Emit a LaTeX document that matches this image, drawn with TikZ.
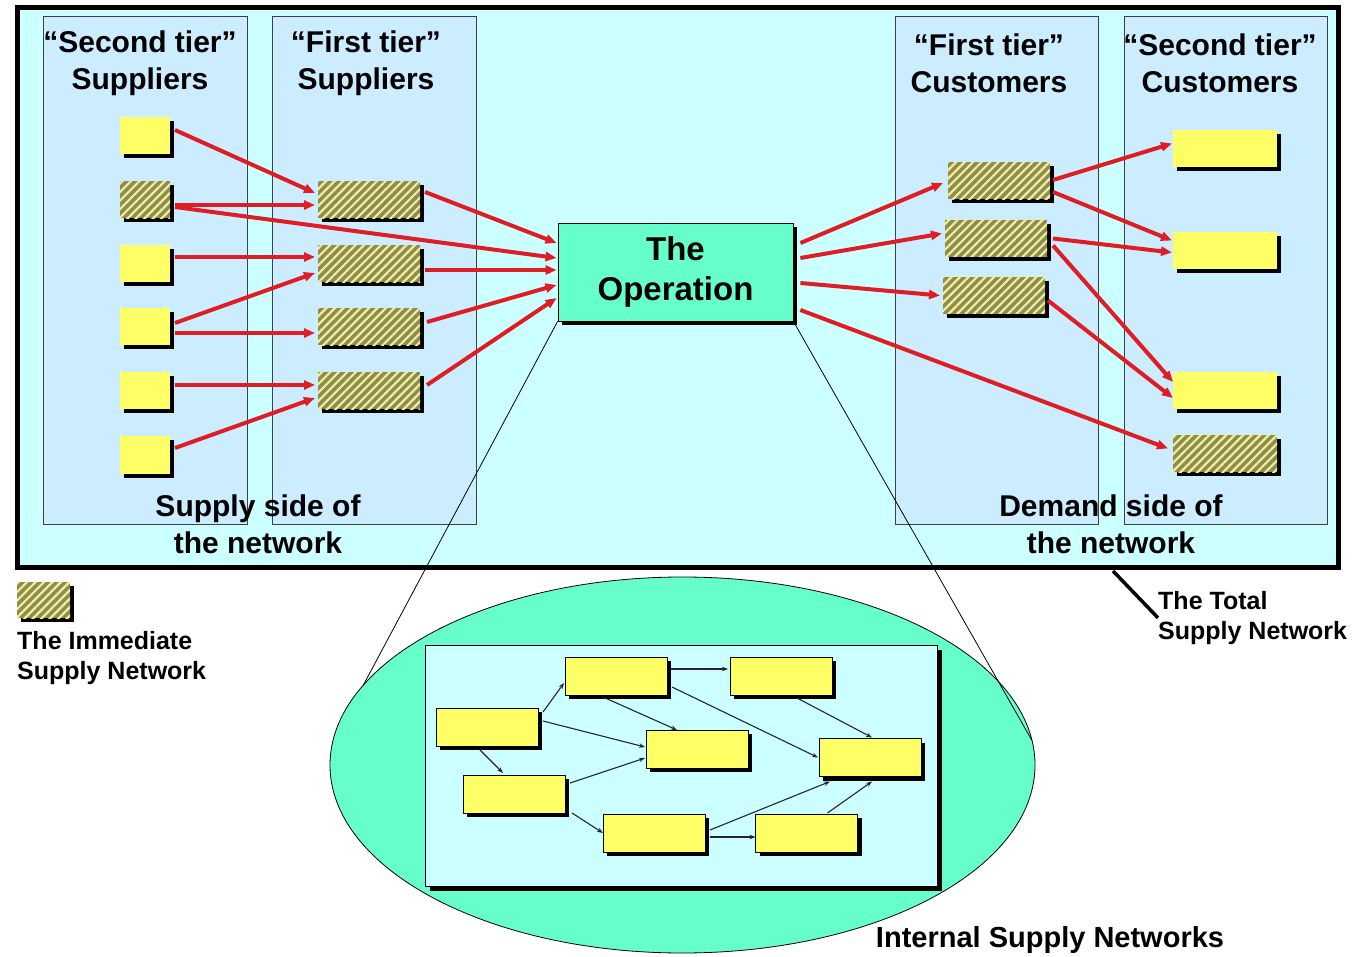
\documentclass[tikz,border=0pt]{standalone}
\usepackage{fontspec}
\setmainfont{Liberation Sans}
\usetikzlibrary{arrows.meta,calc,shadows,shapes.geometric,patterns.meta}

\definecolor{netbg}{RGB}{204,255,255}
\definecolor{tierbg}{RGB}{204,236,255}
\definecolor{boxyellow}{RGB}{255,255,102}
\definecolor{opgreen}{RGB}{102,255,204}
\definecolor{flowred}{RGB}{222,30,36}
\definecolor{hatchdark}{RGB}{140,138,94}
\definecolor{hatchlight}{RGB}{244,242,132}

\tikzset{
  shadowed/.style={drop shadow={shadow xshift=4pt,shadow yshift=-4pt,fill=black,opacity=1}},
  unit/.style={shadowed,inner sep=0pt,outer sep=0pt,minimum width=50pt,minimum height=37pt},
  plain/.style={unit,fill=boxyellow},
  hatched/.style={unit,fill=hatchdark,postaction={pattern={Lines[angle=45,distance=6pt,line width=2.2pt]},pattern color=hatchlight}},
  wide/.style={minimum width=102pt},
  flow/.style={draw=flowred,line width=4pt,-{Triangle[length=11pt,width=9pt]}},
  tierbox/.style={draw=black!75,fill=tierbg,line width=0.8pt},
  heading/.style={font=\bfseries\fontsize{30}{37}\selectfont,align=center},
  keytext/.style={font=\bfseries\fontsize{25}{30}\selectfont,align=left,anchor=north west,inner sep=0pt},
  cell/.style={shadowed,draw=black,line width=1pt,fill=boxyellow,inner sep=0pt,outer sep=0pt,minimum width=102pt,minimum height=38pt},
  link/.style={draw=black!85,line width=1.1pt,-{Stealth[length=6pt,width=4.5pt]}}
}

\begin{document}
\begin{tikzpicture}[x=1pt,y=-1pt]
\useasboundingbox (0,0) rectangle (1355,957);

\draw[line width=5pt,fill=netbg] (17.5,7.5) rectangle (1338.5,567.5);
\draw[tierbox] (43,16) rectangle (247,524);
\draw[tierbox] (272,16) rectangle (476,524);
\draw[tierbox] (895,16) rectangle (1098,524);
\draw[tierbox] (1124,16) rectangle (1327,524);

\node[heading] (s2head) at (140,63) {“Second tier”\\Suppliers};
\node[heading] (s1head) at (366,63) {“First tier”\\Suppliers};
\node[heading] (c1head) at (989,63) {“First tier”\\Customers};
\node[heading] (c2head) at (1220,63) {“Second tier”\\Customers};
\node[heading] (supside) at (258,524) {Supply side of\\the network};
\node[heading] (demside) at (1111,524) {Demand side of\\the network};

\node[plain] (s1) at (145,136) {};
\node[hatched] (s2) at (145,200) {};
\node[plain] (s3) at (145,264) {};
\node[plain] (s4) at (145,327) {};
\node[plain] (s5) at (145,391) {};
\node[plain] (s6) at (145,455) {};

\node[hatched,wide] (f1) at (369,200) {};
\node[hatched,wide] (f2) at (369,264) {};
\node[hatched,wide] (f3) at (369,327) {};
\node[hatched,wide] (f4) at (369,391) {};

\node[shadowed,draw,fill=opgreen,line width=0.8pt,inner sep=0pt,minimum width=235pt,minimum height=98pt,
  font=\bfseries\fontsize{33}{40}\selectfont,align=center] (op) at (675.5,272) {The\\Operation};

\node[hatched,wide] (c1) at (999,181) {};
\node[hatched,wide] (c2) at (996,238.5) {};
\node[hatched,wide] (c3) at (994,295.5) {};

\node[plain,minimum width=104pt] (d1) at (1225,148.5) {};
\node[plain,minimum width=104pt] (d2) at (1225,250.5) {};
\node[plain,minimum width=104pt] (d3) at (1225,391) {};
\node[hatched,minimum width=104pt] (d4) at (1225,453.5) {};

\draw[flow] ($(s1.east)+(5,-6)$) -- ($(f1.west)+(-3,-7)$);
\draw[flow] ($(s2.east)+(5,5)$) -- ($(f1.west)+(-3,5)$);
\draw[flow] ($(s2.east)+(5,7)$) -- ($(op.west)+(-1,-14)$);
\draw[flow] ($(s3.east)+(5,-7)$) -- ($(f2.west)+(-3,-7)$);
\draw[flow] ($(s4.east)+(5,-4)$) -- ($(f2.west)+(-3,9)$);
\draw[flow] ($(s4.east)+(5,6)$) -- ($(f3.west)+(-3,6)$);
\draw[flow] ($(s5.east)+(5,-6)$) -- ($(f4.west)+(-3,-6)$);
\draw[flow] ($(s6.east)+(5,-7)$) -- ($(f4.west)+(-3,7)$);
\draw[flow] ($(f1.east)+(5,-8)$) -- ($(op.west)+(-1,-29)$);
\draw[flow] ($(f2.east)+(5,6)$) -- ($(op.west)+(-1,-2)$);
\draw[flow] ($(f3.east)+(7,-5)$) -- ($(op.west)+(-1,13)$);
\draw[flow] ($(f4.east)+(7,-6)$) -- ($(op.west)+(-1,26)$);

\draw[flow] ($(op.east)+(7,-29)$) -- ($(c1.west)+(-5,2)$);
\draw[flow] ($(op.east)+(7,-14)$) -- ($(c2.west)+(-3,-5)$);
\draw[flow] ($(op.east)+(7,11)$) -- ($(c3.west)+(-3,0)$);
\draw[flow] ($(op.east)+(7,38)$) -- ($(d4.west)+(-5,-5)$);
\draw[flow] ($(c1.east)+(3,-1)$) -- ($(d1.west)+(-1,-5)$);
\draw[flow] ($(c1.east)+(3,11)$) -- ($(d2.west)+(-1,-10)$);
\draw[flow] ($(c2.east)+(6,0)$) -- ($(d2.west)+(-1,2)$);
\draw[flow] ($(c2.east)+(6,7)$) -- ($(d3.west)+(0,-9)$);
\draw[flow] ($(c3.east)+(3,5)$) -- ($(d3.west)+(0,7)$);

\node[hatched,minimum width=53pt,minimum height=36pt] (key) at (43.5,600) {};
\node[keytext] (keylab) at (17,631) {The Immediate\\Supply Network};
\node[keytext] (totlab) at (1158,591) {The Total\\Supply Network};
\coordinate (rim) at (1113,571);
\draw[line width=3.5pt] (rim) -- (totlab.west);

\node[ellipse,draw,fill=opgreen,line width=0.8pt,inner sep=0pt,outer sep=0pt,
  minimum width=705pt,minimum height=376pt] (inner) at (682.5,765) {};
\draw[line width=0.8pt] (op.south west) -- (inner.166);
\draw[line width=0.8pt] (op.south east) -- (inner.4);
\node[draw,fill=netbg,line width=1pt,inner sep=0pt,minimum width=512pt,minimum height=241pt,
  drop shadow={shadow xshift=5pt,shadow yshift=-5pt,fill=black,opacity=1}] (plant) at (681,765.5) {};

\node[cell] (ia) at (487,727) {};
\node[cell] (ib) at (616,676) {};
\node[cell] (ic) at (781,676) {};
\node[cell] (id) at (697,749) {};
\node[cell] (ie) at (870,757.5) {};
\node[cell] (if) at (514,794) {};
\node[cell] (ig) at (654,833) {};
\node[cell] (ih) at (806.5,833) {};

\draw[link] ($(ia.east)+(5,-15)$) -- ($(ib.west)+(-1,7)$);
\draw[link] ($(ia.east)+(5,-6)$) -- ($(id.west)+(-1,-2)$);
\draw[link] ($(ia.south)+(-7,4)$) -- ($(if.north)+(-11,-2)$);
\draw[link] ($(ib.south)+(-13,2)$) -- ($(id.north)+(-20,0)$);
\draw[link] ($(ib.east)+(3,-7)$) -- ($(ic.west)+(-2,-7)$);
\draw[link] ($(ib.east)+(5,11)$) -- ($(ie.west)+(-1,0)$);
\draw[link] ($(ic.south)+(16,3)$) -- ($(ie.north)+(2,-1)$);
\draw[link] ($(if.east)+(5,-11)$) -- ($(id.west)+(-1,9)$);
\draw[link] ($(if.south east)+(7,0)$) -- (ig.west);
\draw[link] ($(ig.east)+(5,-3)$) -- ($(ie.south)+(-40,5)$);
\draw[link] ($(ig.east)+(5,4)$) -- ($(ih.west)+(0,4)$);
\draw[link] ($(ih.north)+(21,-1)$) -- ($(ie.south)+(2,5)$);

\node[font=\bfseries\fontsize{29}{34}\selectfont] (intlab) at (1050,940) {Internal Supply Networks};
\end{tikzpicture}
\end{document}
